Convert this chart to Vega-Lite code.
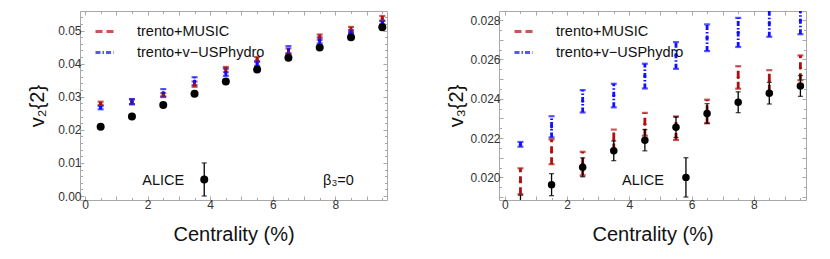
{
  "$schema": "https://vega.github.io/schema/vega-lite/v6.json",
  "padding": {"left": 26, "top": 10, "right": 0, "bottom": 0},
  "spacing": 57,
  "config": {
    "font": "Liberation Sans",
    "view": {"stroke": "#a8a8a8", "strokeWidth": 1},
    "axis": {
      "grid": false, "domain": false, "tickColor": "#a8a8a8", "tickWidth": 1,
      "labelFont": "Liberation Sans", "labelFontSize": 12, "labelColor": "#333333",
      "labelPadding": 3, "labelFlush": false, "labelOverlap": false,
      "titleFont": "Liberation Sans", "titleFontSize": 20, "titleFontWeight": "normal", "titleColor": "#111111"
    },
    "legend": {"labelFont": "Liberation Sans"}
  },
  "datasets": {
    "v2model": [
      {"c": 0.5, "v": 0.0280, "err": 0.0005, "model": "trento+MUSIC"},
      {"c": 1.5, "v": 0.0285, "err": 0.0007, "model": "trento+MUSIC"},
      {"c": 2.5, "v": 0.0305, "err": 0.0006, "model": "trento+MUSIC"},
      {"c": 3.5, "v": 0.0338, "err": 0.0008, "model": "trento+MUSIC"},
      {"c": 4.5, "v": 0.0382, "err": 0.0008, "model": "trento+MUSIC"},
      {"c": 5.5, "v": 0.0413, "err": 0.0007, "model": "trento+MUSIC"},
      {"c": 6.5, "v": 0.0438, "err": 0.0008, "model": "trento+MUSIC"},
      {"c": 7.5, "v": 0.0480, "err": 0.0008, "model": "trento+MUSIC"},
      {"c": 8.5, "v": 0.0503, "err": 0.0008, "model": "trento+MUSIC"},
      {"c": 9.5, "v": 0.0537, "err": 0.0007, "model": "trento+MUSIC"},
      {"c": 0.5, "v": 0.0267, "err": 0.0005, "model": "trento+v−USPhydro"},
      {"c": 1.5, "v": 0.0285, "err": 0.0008, "model": "trento+v−USPhydro"},
      {"c": 2.5, "v": 0.0312, "err": 0.0011, "model": "trento+v−USPhydro"},
      {"c": 3.5, "v": 0.0347, "err": 0.0012, "model": "trento+v−USPhydro"},
      {"c": 4.5, "v": 0.0374, "err": 0.0011, "model": "trento+v−USPhydro"},
      {"c": 5.5, "v": 0.0400, "err": 0.0007, "model": "trento+v−USPhydro"},
      {"c": 6.5, "v": 0.0442, "err": 0.0011, "model": "trento+v−USPhydro"},
      {"c": 7.5, "v": 0.0470, "err": 0.0009, "model": "trento+v−USPhydro"},
      {"c": 8.5, "v": 0.0496, "err": 0.0005, "model": "trento+v−USPhydro"},
      {"c": 9.5, "v": 0.0524, "err": 0.0005, "model": "trento+v−USPhydro"}
    ],
    "v2alice": [
      {"c": 0.5, "v": 0.0209, "err": 0.0004},
      {"c": 1.5, "v": 0.0240, "err": 0.0004},
      {"c": 2.5, "v": 0.0275, "err": 0.0004},
      {"c": 3.5, "v": 0.0309, "err": 0.0004},
      {"c": 4.5, "v": 0.0346, "err": 0.0004},
      {"c": 5.5, "v": 0.0382, "err": 0.0004},
      {"c": 6.5, "v": 0.0418, "err": 0.0004},
      {"c": 7.5, "v": 0.0449, "err": 0.0004},
      {"c": 8.5, "v": 0.0480, "err": 0.0004},
      {"c": 9.5, "v": 0.0510, "err": 0.0004}
    ],
    "v2key": [{"c": 3.81, "v": 0.005, "err": 0.005, "label": "ALICE"}],
    "v3model": [
      {"c": 0.5, "v": 0.0198, "err": 0.00066, "model": "trento+MUSIC"},
      {"c": 1.5, "v": 0.0213, "err": 0.00063, "model": "trento+MUSIC"},
      {"c": 2.5, "v": 0.0207, "err": 0.0006, "model": "trento+MUSIC"},
      {"c": 3.5, "v": 0.0219, "err": 0.00053, "model": "trento+MUSIC"},
      {"c": 4.5, "v": 0.0227, "err": 0.00058, "model": "trento+MUSIC"},
      {"c": 5.5, "v": 0.0225, "err": 0.0006, "model": "trento+MUSIC"},
      {"c": 6.5, "v": 0.02335, "err": 0.0006, "model": "trento+MUSIC"},
      {"c": 7.5, "v": 0.02508, "err": 0.00057, "model": "trento+MUSIC"},
      {"c": 8.5, "v": 0.0249, "err": 0.00055, "model": "trento+MUSIC"},
      {"c": 9.5, "v": 0.02557, "err": 0.00063, "model": "trento+MUSIC"},
      {"c": 0.5, "v": 0.02168, "err": 0.00012, "model": "trento+v−USPhydro"},
      {"c": 1.5, "v": 0.02257, "err": 0.00054, "model": "trento+v−USPhydro"},
      {"c": 2.5, "v": 0.02387, "err": 0.00057, "model": "trento+v−USPhydro"},
      {"c": 3.5, "v": 0.02416, "err": 0.0006, "model": "trento+v−USPhydro"},
      {"c": 4.5, "v": 0.02515, "err": 0.00063, "model": "trento+v−USPhydro"},
      {"c": 5.5, "v": 0.0262, "err": 0.00068, "model": "trento+v−USPhydro"},
      {"c": 6.5, "v": 0.0271, "err": 0.00068, "model": "trento+v−USPhydro"},
      {"c": 7.5, "v": 0.02737, "err": 0.00074, "model": "trento+v−USPhydro"},
      {"c": 8.5, "v": 0.02785, "err": 0.0007, "model": "trento+v−USPhydro"},
      {"c": 9.5, "v": 0.02798, "err": 0.0007, "model": "trento+v−USPhydro"}
    ],
    "v3alice": [
      {"c": 0.5, "v": 0.01855, "err": 0.00055},
      {"c": 1.5, "v": 0.01963, "err": 0.00056},
      {"c": 2.5, "v": 0.02051, "err": 0.00048},
      {"c": 3.5, "v": 0.02135, "err": 0.0005},
      {"c": 4.5, "v": 0.02189, "err": 0.00054},
      {"c": 5.5, "v": 0.02255, "err": 0.00052},
      {"c": 6.5, "v": 0.02325, "err": 0.0005},
      {"c": 7.5, "v": 0.02382, "err": 0.00053},
      {"c": 8.5, "v": 0.02428, "err": 0.00055},
      {"c": 9.5, "v": 0.02465, "err": 0.00053}
    ],
    "v3key": [{"c": 5.82, "v": 0.0200, "err": 0.001, "label": "ALICE"}]
  },
  "resolve": {"scale": {"color": "independent", "strokeDash": "independent"}, "legend": {"color": "independent", "strokeDash": "independent"}},
  "hconcat": [
    {
      "width": 307, "height": 189,
      "resolve": {"axis": {"x": "independent", "y": "independent"}},
      "layer": [
        {
          "data": {"name": "v2model"},
          "mark": {"type": "errorbar", "thickness": 2.8, "clip": true, "ticks": {"size": 6, "thickness": 2.2}},
          "encoding": {
            "x": {"field": "c", "type": "quantitative", "scale": {"domain": [-0.16, 9.65], "nice": false, "zero": false},
              "axis": {"orient": "bottom", "title": "Centrality (%)", "titlePadding": 13,
                "values": [0,0.5,1,1.5,2,2.5,3,3.5,4,4.5,5,5.5,6,6.5,7,7.5,8,8.5,9,9.5],
                "labelExpr": "datum.value % 2 === 0 ? format(datum.value, 'd') : ''",
                "tickSize": {"condition": {"test": "datum.value % 1 === 0", "value": -4}, "value": -2.5}}},
            "y": {"field": "v", "type": "quantitative", "scale": {"domain": [-0.0012, 0.0559], "nice": false, "zero": false},
              "axis": {"orient": "left", "title": "v₂{2}", "titleX": -33, "titleBaseline": "bottom",
                "values": [0,0.002,0.004,0.006,0.008,0.01,0.012,0.014,0.016,0.018,0.02,0.022,0.024,0.026,0.028,0.03,0.032,0.034,0.036,0.038,0.04,0.042,0.044,0.046,0.048,0.05,0.052,0.054],
                "labelExpr": "abs(datum.value*100 - round(datum.value*100)) < 1e-6 ? format(datum.value, '.2f') : ''",
                "tickSize": {"condition": {"test": "abs(datum.value*100 - round(datum.value*100)) < 1e-6", "value": -4}, "value": -2.5}}},
            "yError": {"field": "err"},
            "color": {"field": "model", "type": "nominal",
              "scale": {"domain": ["trento+MUSIC", "trento+v−USPhydro"], "range": ["#b00f0f", "#1010ff"]},
              "legend": {"orient": "none", "legendX": 14, "legendY": 10, "title": null, "symbolType": "stroke", "symbolSize": 324, "symbolStrokeWidth": 3, "labelFontSize": 14.5, "labelColor": "#111111", "labelOffset": 22, "rowPadding": 4}},
            "strokeDash": {"field": "model", "type": "nominal",
              "scale": {"domain": ["trento+MUSIC", "trento+v−USPhydro"], "range": [[7, 4], [5, 2, 1.5, 2]]},
              "legend": {"orient": "none", "legendX": 14, "legendY": 10, "title": null, "symbolType": "stroke", "symbolSize": 324, "symbolStrokeWidth": 3, "labelFontSize": 14.5, "labelColor": "#111111", "labelOffset": 22, "rowPadding": 4}}
          }
        },
        {
          "data": {"name": "v2model"},
          "mark": {"type": "point", "filled": true, "size": 10, "opacity": 1, "clip": true},
          "encoding": {
            "x": {"field": "c", "type": "quantitative", "axis": null},
            "y": {"field": "v", "type": "quantitative", "axis": null},
            "fill": {"field": "model", "type": "nominal", "scale": {"domain": ["trento+MUSIC", "trento+v−USPhydro"], "range": ["#b00f0f", "#1010ff"]}, "legend": null}
          }
        },
        {
          "data": {"name": "v2alice"},
          "mark": {"type": "errorbar", "color": "#000000", "thickness": 1.3, "clip": true, "ticks": {"size": 5, "thickness": 1.3}},
          "encoding": {
            "x": {"field": "c", "type": "quantitative", "axis": null},
            "y": {"field": "v", "type": "quantitative", "axis": null},
            "yError": {"field": "err"}
          }
        },
        {
          "data": {"name": "v2alice"},
          "mark": {"type": "point", "filled": true, "size": 64, "color": "#000000", "opacity": 1, "clip": true},
          "encoding": {
            "x": {"field": "c", "type": "quantitative",
              "axis": {"orient": "top", "title": null, "labels": false,
                "values": [0,0.5,1,1.5,2,2.5,3,3.5,4,4.5,5,5.5,6,6.5,7,7.5,8,8.5,9,9.5],
                "tickSize": {"condition": {"test": "datum.value % 1 === 0", "value": -4}, "value": -2.5}}},
            "y": {"field": "v", "type": "quantitative",
              "axis": {"orient": "right", "title": null, "labels": false,
                "values": [0,0.002,0.004,0.006,0.008,0.01,0.012,0.014,0.016,0.018,0.02,0.022,0.024,0.026,0.028,0.03,0.032,0.034,0.036,0.038,0.04,0.042,0.044,0.046,0.048,0.05,0.052,0.054],
                "tickSize": {"condition": {"test": "abs(datum.value*100 - round(datum.value*100)) < 1e-6", "value": -4}, "value": -2.5}}}
          }
        },
        {
          "data": {"name": "v2key"},
          "mark": {"type": "errorbar", "color": "#000000", "thickness": 1.3, "ticks": {"size": 5, "thickness": 1.3}},
          "encoding": {
            "x": {"field": "c", "type": "quantitative", "axis": null},
            "y": {"field": "v", "type": "quantitative", "axis": null},
            "yError": {"field": "err"}
          }
        },
        {
          "data": {"name": "v2key"},
          "mark": {"type": "point", "filled": true, "size": 64, "color": "#000000", "opacity": 1},
          "encoding": {
            "x": {"field": "c", "type": "quantitative", "axis": null},
            "y": {"field": "v", "type": "quantitative", "axis": null}
          }
        },
        {
          "data": {"name": "v2key"},
          "mark": {"type": "text", "align": "right", "baseline": "middle", "dx": -20, "dy": 2, "fontSize": 14.5, "color": "#111111"},
          "encoding": {
            "x": {"field": "c", "type": "quantitative", "axis": null},
            "y": {"field": "v", "type": "quantitative", "axis": null},
            "text": {"field": "label"}
          }
        },
        {
          "data": {"values": [{}]},
          "mark": {"type": "text", "align": "center", "baseline": "middle", "fontSize": 14.5, "color": "#111111", "text": "β₃=0"},
          "encoding": {
            "x": {"datum": 8.1, "type": "quantitative", "axis": null},
            "y": {"datum": 0.0045, "type": "quantitative", "axis": null}
          }
        }
      ]
    },
    {
      "width": 307, "height": 189,
      "resolve": {"axis": {"x": "independent", "y": "independent"}},
      "layer": [
        {
          "data": {"name": "v3model"},
          "mark": {"type": "errorbar", "thickness": 2.8, "clip": true, "ticks": {"size": 6, "thickness": 2.2}},
          "encoding": {
            "x": {"field": "c", "type": "quantitative", "scale": {"domain": [-0.19, 9.68], "nice": false, "zero": false},
              "axis": {"orient": "bottom", "title": "Centrality (%)", "titlePadding": 13,
                "values": [0,0.5,1,1.5,2,2.5,3,3.5,4,4.5,5,5.5,6,6.5,7,7.5,8,8.5,9,9.5],
                "labelExpr": "datum.value % 2 === 0 ? format(datum.value, 'd') : ''",
                "tickSize": {"condition": {"test": "datum.value % 1 === 0", "value": -4}, "value": -2.5}}},
            "y": {"field": "v", "type": "quantitative", "scale": {"domain": [0.01885, 0.02846], "nice": false, "zero": false},
              "axis": {"orient": "left", "title": "v₃{2}", "titleX": -33, "titleBaseline": "bottom",
                "values": [0.019,0.0195,0.02,0.0205,0.021,0.0215,0.022,0.0225,0.023,0.0235,0.024,0.0245,0.025,0.0255,0.026,0.0265,0.027,0.0275,0.028],
                "labelExpr": "abs(datum.value*500 - round(datum.value*500)) < 1e-6 ? format(datum.value, '.3f') : ''",
                "tickSize": {"condition": {"test": "abs(datum.value*1000 - round(datum.value*1000)) < 1e-6", "value": -4}, "value": -2.5}}},
            "yError": {"field": "err"},
            "color": {"field": "model", "type": "nominal",
              "scale": {"domain": ["trento+MUSIC", "trento+v−USPhydro"], "range": ["#b00f0f", "#1010ff"]},
              "legend": {"orient": "none", "legendX": 14, "legendY": 10, "title": null, "symbolType": "stroke", "symbolSize": 324, "symbolStrokeWidth": 3, "labelFontSize": 14.5, "labelColor": "#111111", "labelOffset": 22, "rowPadding": 4}},
            "strokeDash": {"field": "model", "type": "nominal",
              "scale": {"domain": ["trento+MUSIC", "trento+v−USPhydro"], "range": [[7, 4], [5, 2, 1.5, 2]]},
              "legend": {"orient": "none", "legendX": 14, "legendY": 10, "title": null, "symbolType": "stroke", "symbolSize": 324, "symbolStrokeWidth": 3, "labelFontSize": 14.5, "labelColor": "#111111", "labelOffset": 22, "rowPadding": 4}}
          }
        },
        {
          "data": {"name": "v3model"},
          "mark": {"type": "point", "filled": true, "size": 10, "opacity": 1, "clip": true},
          "encoding": {
            "x": {"field": "c", "type": "quantitative", "axis": null},
            "y": {"field": "v", "type": "quantitative", "axis": null},
            "fill": {"field": "model", "type": "nominal", "scale": {"domain": ["trento+MUSIC", "trento+v−USPhydro"], "range": ["#b00f0f", "#1010ff"]}, "legend": null}
          }
        },
        {
          "data": {"name": "v3alice"},
          "mark": {"type": "errorbar", "color": "#000000", "thickness": 1.3, "clip": true, "ticks": {"size": 5, "thickness": 1.3}},
          "encoding": {
            "x": {"field": "c", "type": "quantitative", "axis": null},
            "y": {"field": "v", "type": "quantitative", "axis": null},
            "yError": {"field": "err"}
          }
        },
        {
          "data": {"name": "v3alice"},
          "mark": {"type": "point", "filled": true, "size": 56, "color": "#000000", "opacity": 1, "clip": true},
          "encoding": {
            "x": {"field": "c", "type": "quantitative",
              "axis": {"orient": "top", "title": null, "labels": false,
                "values": [0,0.5,1,1.5,2,2.5,3,3.5,4,4.5,5,5.5,6,6.5,7,7.5,8,8.5,9,9.5],
                "tickSize": {"condition": {"test": "datum.value % 1 === 0", "value": -4}, "value": -2.5}}},
            "y": {"field": "v", "type": "quantitative",
              "axis": {"orient": "right", "title": null, "labels": false,
                "values": [0.019,0.0195,0.02,0.0205,0.021,0.0215,0.022,0.0225,0.023,0.0235,0.024,0.0245,0.025,0.0255,0.026,0.0265,0.027,0.0275,0.028],
                "tickSize": {"condition": {"test": "abs(datum.value*1000 - round(datum.value*1000)) < 1e-6", "value": -4}, "value": -2.5}}}
          }
        },
        {
          "data": {"name": "v3key"},
          "mark": {"type": "errorbar", "color": "#000000", "thickness": 1.3, "ticks": {"size": 5, "thickness": 1.3}},
          "encoding": {
            "x": {"field": "c", "type": "quantitative", "axis": null},
            "y": {"field": "v", "type": "quantitative", "axis": null},
            "yError": {"field": "err"}
          }
        },
        {
          "data": {"name": "v3key"},
          "mark": {"type": "point", "filled": true, "size": 56, "color": "#000000", "opacity": 1},
          "encoding": {
            "x": {"field": "c", "type": "quantitative", "axis": null},
            "y": {"field": "v", "type": "quantitative", "axis": null}
          }
        },
        {
          "data": {"name": "v3key"},
          "mark": {"type": "text", "align": "right", "baseline": "middle", "dx": -22, "dy": 4, "fontSize": 14.5, "color": "#111111"},
          "encoding": {
            "x": {"field": "c", "type": "quantitative", "axis": null},
            "y": {"field": "v", "type": "quantitative", "axis": null},
            "text": {"field": "label"}
          }
        }
      ]
    }
  ]
}
